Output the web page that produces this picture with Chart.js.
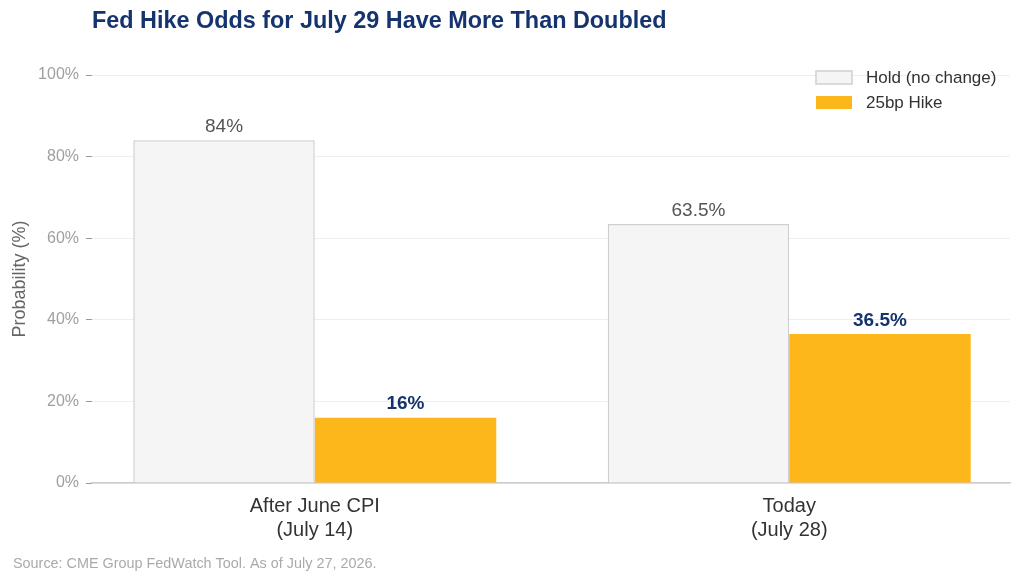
<!DOCTYPE html>
<html>
<head>
<meta charset="utf-8">
<script src="https://cdn.jsdelivr.net/npm/chart.js@4/dist/chart.umd.min.js"></script>
<style>
  html, body { margin: 0; padding: 0; background: #fff; }
  #wrap { width: 1024px; height: 585px; position: relative; }
</style>
</head>
<body>
<div id="wrap"><canvas id="chart"></canvas></div>
<script>
// Data
const categories = [["After June CPI", "(July 14)"], ["Today", "(July 28)"]];
const seriesNames = ["Hold (no change)", "25bp Hike"];
const holdValues = [84, 63.5];
const hikeValues = [16, 36.5];
const yTicks = [0, 20, 40, 60, 80, 100];

const NAVY = "#15336d";
const FONT = "'Liberation Sans', Arial, sans-serif";

const toPoints = vals => vals.map((v, i) => ({ x: i, y: v }));

// title, source, legend and value labels
const extras = {
  id: "extras",
  afterDraw(chart) {
    const c = chart.ctx, area = chart.chartArea;
    c.save();
    // title
    c.fillStyle = NAVY;
    c.font = "bold 23.4px " + FONT;
    c.textBaseline = "middle";
    c.textAlign = "left";
    c.fillText("Fed Hike Odds for July 29 Have More Than Doubled", area.left, 22);
    // source
    c.fillStyle = "#aaaaaa";
    c.font = "14.4px " + FONT;
    c.fillText("Source: CME Group FedWatch Tool. As of July 27, 2026.", 13, 564);
    // legend
    chart.data.datasets.forEach((ds, i) => {
      const y = 71 + i * 25;
      c.fillStyle = ds.backgroundColor;
      c.fillRect(816, y, 36, 13);
      if (ds.borderWidth) {
        c.strokeStyle = ds.borderColor;
        c.lineWidth = 1.5;
        c.strokeRect(816, y, 36, 13);
      }
      c.fillStyle = "#333333";
      c.font = "17px " + FONT;
      c.fillText(ds.label, 866, y + 7);
    });
    // value labels
    chart.data.datasets.forEach((ds, i) => {
      const meta = chart.getDatasetMeta(i);
      meta.data.forEach((bar, j) => {
        const v = ds.data[j].y;
        c.textAlign = "center";
        c.textBaseline = "bottom";
        if (i === 0) { c.fillStyle = "#555555"; c.font = "19px " + FONT; }
        else { c.fillStyle = NAVY; c.font = "bold 19px " + FONT; }
        c.fillText(v + "%", bar.x, bar.y - 4);
      });
    });
    c.restore();
  }
};

new Chart(document.getElementById("chart"), {
  type: "bar",
  data: {
    datasets: [
      { label: seriesNames[0], data: toPoints(holdValues), backgroundColor: "#f5f5f5",
        borderColor: "#cfcfcf", borderWidth: 1.5 },
      { label: seriesNames[1], data: toPoints(hikeValues), backgroundColor: "#fdb71a",
        borderWidth: 0 }
    ]
  },
  options: {
    responsive: true,
    maintainAspectRatio: false,
    animation: false,
    categoryPercentage: 0.765,
    barPercentage: 1,
    layout: { padding: { top: 75, right: 14, left: 0, bottom: 0 } },
    plugins: { legend: { display: false }, title: { display: false }, tooltip: { enabled: false } },
    scales: {
      x: {
        type: "linear",
        offset: false,
        min: -0.4695,
        max: 1.4653,
        afterFit: s => { s.height = 102; },
        afterBuildTicks: s => { s.ticks = categories.map((_, i) => ({ value: i })); },
        ticks: {
          callback: v => categories[v],
          color: "#333333",
          font: { family: FONT, size: 20 },
          padding: 3,
          maxRotation: 0
        },
        grid: { display: false },
        border: { display: true, color: "#cccccc", width: 1.5 }
      },
      y: {
        min: 0,
        max: 100,
        afterFit: s => { s.width = 92; },
        afterBuildTicks: s => { s.ticks = yTicks.map(v => ({ value: v })); },
        ticks: {
          callback: v => v + "%",
          color: "#a0a0a0",
          font: { family: FONT, size: 16 },
          padding: 7
        },
        grid: { color: "#eeeeee", tickColor: "#999999", tickLength: 6 },
        border: { display: false },
        title: {
          display: true,
          text: "Probability (%)",
          color: "#666666",
          font: { family: FONT, size: 18 },
          padding: { top: 9, bottom: 4 }
        }
      }
    }
  },
  plugins: [extras]
});
</script>
</body>
</html>
